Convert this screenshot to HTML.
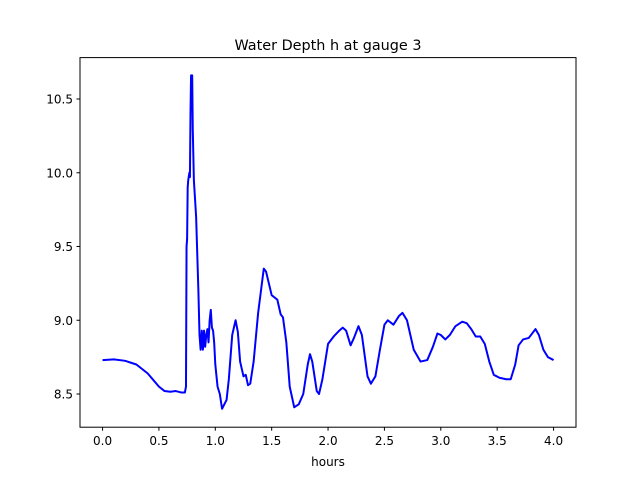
<!DOCTYPE html>
<html><head><meta charset="utf-8"><style>
body{margin:0;background:#fff}
svg text{font-family:"DejaVu Sans","Liberation Sans",sans-serif;fill:#000}
</style></head><body>
<svg id="chart" width="640" height="480" viewBox="0 0 640 480">
<rect width="640" height="480" fill="#fff"/>
<text x="328" y="50" font-size="14.4" text-anchor="middle">Water Depth h at gauge 3</text>
<g id="xt"></g><g id="yt"></g>
<polyline id="line" fill="none" stroke="#0000ff" stroke-width="2" stroke-linejoin="round"/>
<rect x="80" y="57.6" width="496" height="369.6" fill="none" stroke="#000" stroke-width="1"/>
<text x="328" y="466" font-size="12" text-anchor="middle">hours</text>
</svg>
<script>
const xTicks=[0,0.5,1,1.5,2,2.5,3,3.5,4];
const xTickLabels=["0.0","0.5","1.0","1.5","2.0","2.5","3.0","3.5","4.0"];
const yTicks=[8.5,9,9.5,10,10.5];
const yTickLabels=["8.5","9.0","9.5","10.0","10.5"];
const hours=[0,0.1,0.2,0.3,0.4,0.5,0.55,0.6,0.65,0.7,0.73,0.74,0.745,0.75,0.755,0.76,0.77,0.775,0.78,0.785,0.795,0.8,0.81,0.83,0.85,0.86,0.87,0.88,0.89,0.9,0.91,0.92,0.93,0.94,0.95,0.96,0.97,0.98,0.99,1.0,1.02,1.04,1.06,1.08,1.1,1.12,1.15,1.18,1.2,1.22,1.25,1.27,1.29,1.31,1.34,1.38,1.43,1.45,1.5,1.55,1.58,1.6,1.63,1.66,1.7,1.74,1.78,1.82,1.84,1.86,1.9,1.92,1.95,2.0,2.05,2.1,2.13,2.16,2.2,2.23,2.27,2.3,2.35,2.38,2.42,2.46,2.5,2.53,2.58,2.63,2.66,2.7,2.76,2.82,2.88,2.93,2.97,3.0,3.04,3.08,3.13,3.19,3.23,3.27,3.31,3.35,3.39,3.43,3.47,3.52,3.58,3.62,3.66,3.69,3.73,3.78,3.82,3.84,3.87,3.91,3.95,4.0];
const depth=[8.73,8.735,8.725,8.70,8.64,8.55,8.52,8.515,8.52,8.51,8.51,8.55,9.5,9.55,9.9,9.95,10.0,9.97,10.4,10.66,10.66,10.3,9.95,9.7,9.2,8.9,8.8,8.93,8.8,8.93,8.82,8.9,8.94,8.85,9.0,9.07,8.95,8.93,8.85,8.7,8.55,8.5,8.4,8.43,8.46,8.6,8.9,9.0,8.92,8.72,8.62,8.63,8.56,8.57,8.72,9.05,9.35,9.33,9.17,9.14,9.04,9.02,8.85,8.55,8.41,8.43,8.5,8.7,8.77,8.72,8.52,8.5,8.6,8.84,8.89,8.93,8.95,8.93,8.83,8.88,8.96,8.9,8.62,8.57,8.62,8.8,8.97,9.0,8.97,9.03,9.05,9.0,8.8,8.72,8.73,8.82,8.91,8.9,8.87,8.9,8.96,8.99,8.98,8.94,8.89,8.89,8.84,8.72,8.63,8.61,8.6,8.6,8.7,8.83,8.87,8.88,8.92,8.94,8.9,8.8,8.75,8.73];
const NS="http://www.w3.org/2000/svg";
function xs(v){return 102.55+v*112.75;}
function ys(v){return 394-(v-8.5)*147.5;}
const xt=document.getElementById('xt'),yt=document.getElementById('yt');
xTicks.forEach((v,i)=>{
 const l=document.createElementNS(NS,'line');
 l.setAttribute('x1',xs(v));l.setAttribute('x2',xs(v));l.setAttribute('y1',427.2);l.setAttribute('y2',430.7);l.setAttribute('stroke','#000');
 
 
 xt.appendChild(l);
 const t=document.createElementNS(NS,'text');
 t.setAttribute('x',xs(v));t.setAttribute('y',445);t.setAttribute('font-size','12');t.setAttribute('text-anchor','middle');
 t.textContent=xTickLabels[i];
 
 
 xt.appendChild(t);
});
yTicks.forEach((v,i)=>{
 const l=document.createElementNS(NS,'line');
 l.setAttribute('x1',76.5);l.setAttribute('x2',80);l.setAttribute('y1',ys(v));l.setAttribute('y2',ys(v));l.setAttribute('stroke','#000');
 
 
 yt.appendChild(l);
 const t=document.createElementNS(NS,'text');
 t.setAttribute('x',73);t.setAttribute('y',ys(v)+4.5);t.setAttribute('font-size','12');t.setAttribute('text-anchor','end');
 t.textContent=yTickLabels[i];
 
 
 yt.appendChild(t);
});
document.getElementById('line').setAttribute('points',hours.map((h,i)=>xs(h).toFixed(2)+','+ys(depth[i]).toFixed(2)).join(' '));
</script>
</body></html>
